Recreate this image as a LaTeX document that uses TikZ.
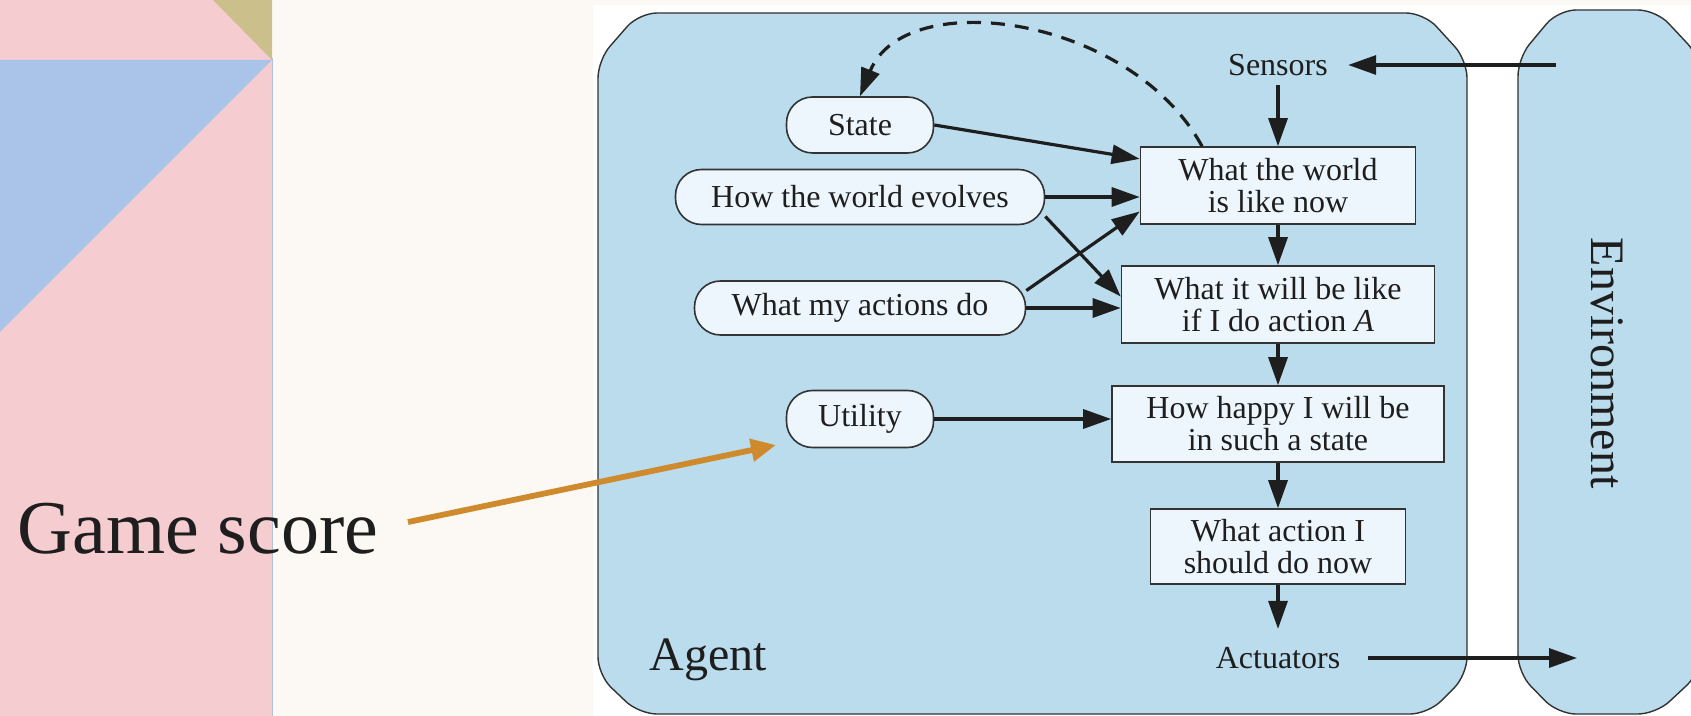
\documentclass[tikz,border=0pt]{standalone}
\usepackage{fontspec}
\setmainfont{Liberation Serif}
\usetikzlibrary{arrows.meta}
\definecolor{pinkbg}{HTML}{F5CDD0}
\definecolor{bluetri}{HTML}{A9C4E8}
\definecolor{tantri}{HTML}{CBBF8C}
\definecolor{creambg}{HTML}{FCF9F4}
\definecolor{agentfill}{HTML}{BBDCEC}
\definecolor{boxfill}{HTML}{EEF6FD}
\definecolor{orangearr}{HTML}{D08A2E}
\definecolor{edgegray}{HTML}{333333}
\definecolor{inkblack}{HTML}{1E1E1E}
\definecolor{panelline}{HTML}{B4C2D6}
\begin{document}
\begin{tikzpicture}[x=0.5pt,y=-0.5pt,
  every node/.style={inner sep=0pt, text=inkblack},
  txt/.style={font=\fontsize{16}{16}\selectfont},
  box/.style={draw=edgegray, line width=0.8pt, fill=boxfill, align=center, font=\fontsize{16}{16}\selectfont},
  oval/.style={draw=edgegray, line width=0.8pt, fill=boxfill, rounded corners=13pt, font=\fontsize{16}{16}\selectfont},
  arr/.style={line width=1.6pt, draw=inkblack, -{Triangle[length=14pt,width=9.5pt]}},
  dasharr/.style={arr, dash pattern=on 7pt off 5pt},
  shell/.style={draw=edgegray, line width=0.7pt, fill=agentfill, rounded corners=9pt},
  bigtxt/.style={font=\fontsize{24}{24}\selectfont},
  orangearrow/.style={line width=2.9pt, draw=orangearr, -{Triangle[length=12.5pt,width=11pt]}}
]
\useasboundingbox (0,0) rectangle (1691,716);
% backgrounds
\fill[creambg] (0,0) rectangle (1691,716);
\fill[pinkbg] (0,0) rectangle (272,716);
\fill[tantri] (213,0) -- (272,0) -- (272,60) -- cycle;
\fill[bluetri] (0,60) -- (272,60) -- (0,332) -- cycle;
\draw[panelline, line width=0.5pt] (272.5,58) -- (272.5,716);
\fill[white] (593,5) rectangle (1691,716);

% agent and environment shells
\path[shell] (598,60) -- (639,13) -- (1424,13) -- (1467,60) -- (1467,675) -- (1428,714) -- (639,714) -- (598,675) -- cycle;
\path[shell] (1518,58) -- (1558,10) -- (1656,10) -- (1700,57) -- (1700,673) -- (1656,714) -- (1558,714) -- (1518,673) -- cycle;

\node[bigtxt, anchor=base west] (agentlbl) at (649,670) {Agent};
\node[bigtxt, rotate=-90] (envlbl) at (1607,363) {Environment};

% left-hand ovals
\node[oval, minimum width=73.5pt, minimum height=28pt] (state) at (860,125) {State};
\node[oval, minimum width=184.5pt, minimum height=27.5pt] (evolves) at (860,197) {How the world evolves};
\node[oval, minimum width=165.5pt, minimum height=27pt] (actions) at (860,308) {What my actions do};
\node[oval, minimum width=73.5pt, minimum height=28.5pt] (utility) at (860,419) {Utility};

% right-hand boxes
\node[box, minimum width=137.5pt, minimum height=38.5pt] (wnow) at (1278,185.5) {What the world\\is like now};
\node[box, minimum width=156.5pt, minimum height=38.5pt] (acta) at (1278,304.5) {What it will be like\\if I do action \textit{A}};
\node[box, minimum width=166pt, minimum height=38pt] (happy) at (1278,424) {How happy I will be\\in such a state};
\node[box, minimum width=127.5pt, minimum height=37.5pt] (should) at (1278,546.5) {What action I\\should do now};

\node[txt, inner xsep=10pt, inner ysep=4.5pt] (sensors) at (1278,65) {Sensors};
\node[txt, inner xsep=13.5pt, inner ysep=9pt] (actuators) at (1278,658) {Actuators};
\coordinate (envS) at (1556,65);
\coordinate (envA) at (1577,658);

% connectors
\draw[arr] (envS) -- (sensors.east);
\draw[arr] (sensors.south) -- (wnow.north);
\draw[arr] (state.east) -- ([yshift=13.3pt]wnow.west);
\draw[arr] (evolves.east) -- (wnow.west |- evolves.east);
\draw[arr] (actions.6) -- ([yshift=-13pt]wnow.west);
\draw[arr] (evolves.-6) -- ([yshift=4pt]acta.west);
\draw[arr] (actions.east) -- (acta.west |- actions.east);
\draw[arr] (utility.east) -- (happy.west |- utility.east);
\draw[arr] (wnow.south) -- (acta.north);
\draw[arr] (acta.south) -- (happy.north);
\draw[arr] (happy.south) -- (should.north);
\draw[arr] (should.south) -- (actuators.north);
\draw[arr] (actuators.east) -- (envA);
\draw[dasharr] ([xshift=-38pt]wnow.north) .. controls (1130,15) and (905,-15) .. (state.north);

% annotation
\node[font=\fontsize{38}{38}\selectfont, anchor=base west, inner xsep=0pt] (gs) at (17,553) {Game score};
\coordinate (gtip) at (776,445);
\draw[orangearrow, shorten <=15pt] (gs.east) -- (gtip);
\end{tikzpicture}
\end{document}
